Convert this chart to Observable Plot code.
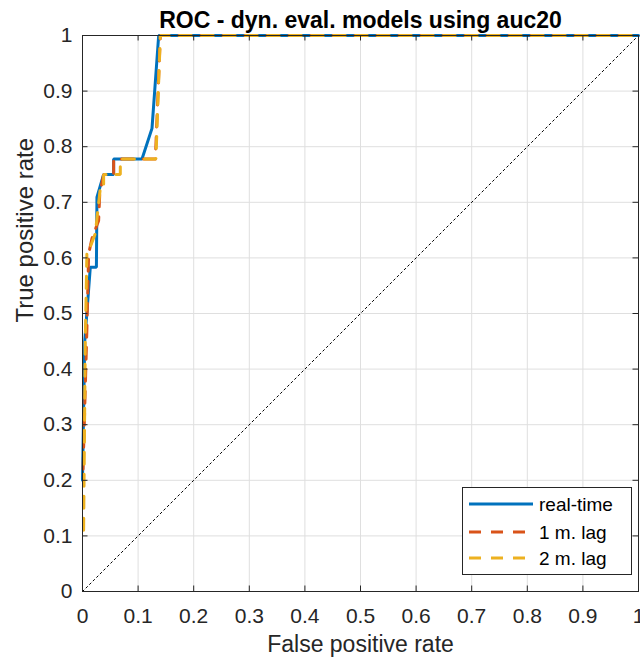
<!DOCTYPE html>
<html>
<head>
<meta charset="utf-8">
<script src="https://cdn.jsdelivr.net/npm/d3@7"></script>
<script src="https://cdn.jsdelivr.net/npm/@observablehq/plot@0.6"></script>
<style>
  html, body { margin: 0; padding: 0; background: #fff; }
  #wrap { position: relative; width: 640px; height: 657px; overflow: hidden; font-family: "Liberation Sans", Arial, Helvetica, sans-serif; }
  #legend { position: absolute; left: 462px; top: 487px; }
</style>
</head>
<body>
<div id="wrap"></div>
<script>
const title = "ROC - dyn. eval. models using auc20";
const xLabel = "False positive rate";
const yLabel = "True positive rate";
const ticks = [0, 0.1, 0.2, 0.3, 0.4, 0.5, 0.6, 0.7, 0.8, 0.9, 1];

const seriesNames = ["real-time", "1 m. lag", "2 m. lag"];
const seriesColors = ["#0072BD", "#D95319", "#EDB120"];
const seriesDash = [null, "12,10", "12,10"];

// real-time
const fprReal = [0, 0.004, 0.014, 0.025, 0.026, 0.038, 0.056, 0.056, 0.107, 0.125, 0.137, 1];
const tprReal = [0.2, 0.45, 0.583, 0.583, 0.709, 0.75, 0.75, 0.778, 0.778, 0.833, 1, 1];
// 1 month lag
const fprLag1 = [0.001, 0.008, 0.011, 0.017, 0.029, 0.031, 0.038, 0.056, 0.056, 0.131, 0.14, 1];
const tprLag1 = [0.22, 0.475, 0.607, 0.635, 0.667, 0.715, 0.75, 0.75, 0.778, 0.778, 1, 1];
// 2 month lag
const fprLag2 = [0.002, 0.005, 0.008, 0.014, 0.023, 0.032, 0.038, 0.038, 0.068, 0.068, 0.132, 0.14, 1];
const tprLag2 = [0.11, 0.45, 0.613, 0.62, 0.644, 0.725, 0.725, 0.75, 0.75, 0.778, 0.778, 1, 1];

const chance = [0, 1];

const toPts = (xs, ys) => xs.map((x, i) => ({x, y: ys[i]}));
const series = [toPts(fprReal, tprReal), toPts(fprLag1, tprLag1), toPts(fprLag2, tprLag2)];
const diag = chance.map(v => ({x: v, y: v}));

const W = 640, H = 657, mT = 35, mB = 66, mL = 82, mR = 2;
const innerH = H - mT - mB;
const tickLen = 5.5;
const ink = "#262626";

const chart = Plot.plot({
  width: W, height: H,
  marginTop: mT, marginBottom: mB, marginLeft: mL, marginRight: mR,
  style: {fontFamily: '"Liberation Sans", Arial, Helvetica, sans-serif', fontSize: "21px", color: ink, background: "white", overflow: "visible"},
  x: {domain: [0, 1]},
  y: {domain: [0, 1]},
  marks: [
    Plot.gridX(ticks, {stroke: "#dfdfdf", strokeOpacity: 1}),
    Plot.gridY(ticks, {stroke: "#dfdfdf", strokeOpacity: 1}),
    Plot.line(diag, {x: "x", y: "y", stroke: "black", strokeWidth: 1, strokeDasharray: "2,3"}),
    ...series.map((pts, i) => Plot.line(pts, {x: "x", y: "y", stroke: seriesColors[i], strokeWidth: 3, strokeDasharray: seriesDash[i], strokeLinejoin: "miter"})),
    Plot.frame({stroke: ink, strokeWidth: 1}),
    Plot.tickX(ticks, {x: d => d, stroke: ink, insetTop: innerH - tickLen}),
    Plot.tickX(ticks, {x: d => d, stroke: ink, insetBottom: innerH - tickLen}),
    Plot.tickY(ticks, {y: d => d, stroke: ink, insetRight: (W - mL - mR) - tickLen}),
    Plot.tickY(ticks, {y: d => d, stroke: ink, insetLeft: (W - mL - mR) - tickLen}),
    Plot.axisX({ticks, tickSize: 0, tickPadding: 17, label: null, fontSize: 21, tickFormat: d3.format("~g")}),
    Plot.axisY({ticks, tickSize: 0, tickPadding: 10, label: null, fontSize: 21, tickFormat: d3.format("~g")}),
    Plot.text([title], {frameAnchor: "top", dy: -8, lineAnchor: "bottom", fontWeight: "bold", fontSize: 23, fill: "black"}),
    Plot.text([xLabel], {frameAnchor: "bottom", dy: 60, lineAnchor: "bottom", fontSize: 23, fill: ink}),
    Plot.text([yLabel], {frameAnchor: "left", dx: -50, dy: 9, rotate: -90, lineAnchor: "bottom", fontSize: 24, fill: ink})
  ]
});

const wrap = document.getElementById("wrap");
wrap.appendChild(chart);

// legend
const lw = 169, lh = 87;
const leg = d3.create("svg").attr("id", "legend").attr("width", lw + 1).attr("height", lh + 1);
leg.append("rect").attr("x", 0.5).attr("y", 0.5).attr("width", lw).attr("height", lh)
  .attr("fill", "white").attr("stroke", ink);
const rowY = [17, 45, 71];
seriesNames.forEach((name, i) => {
  leg.append("line").attr("x1", 7).attr("x2", 71).attr("y1", rowY[i]).attr("y2", rowY[i])
    .attr("stroke", seriesColors[i]).attr("stroke-width", 3)
    .attr("stroke-dasharray", seriesDash[i]);
  leg.append("text").attr("x", 77).attr("y", rowY[i]).attr("dy", "0.35em")
    .attr("font-size", 19).attr("fill", "black")
    .attr("font-family", '"Liberation Sans", Arial, Helvetica, sans-serif')
    .text(name);
});
wrap.appendChild(leg.node());
</script>
</body>
</html>
